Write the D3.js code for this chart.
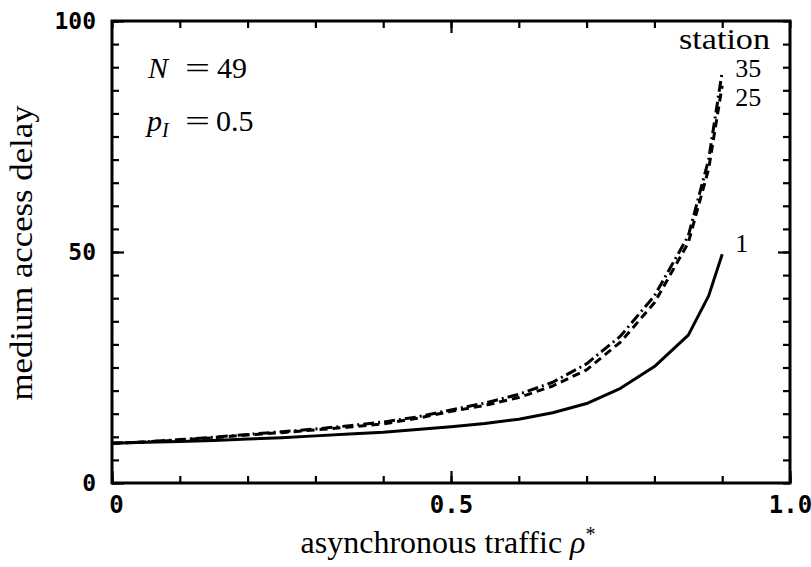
<!DOCTYPE html>
<html>
<head>
<meta charset="utf-8">
<script src="https://cdn.jsdelivr.net/npm/d3@7"></script>
<style>
  body { margin: 0; background: #fff; }
  .tick text { font-family: 'DejaVu Sans Mono', monospace; font-weight: bold; fill: #000; }
  text.label { font-family: 'Liberation Serif', 'Times New Roman', 'DejaVu Serif', serif; fill: #000; }
</style>
</head>
<body>
<svg width="811" height="567"></svg>
<script>
const rho = [0, 0.05, 0.1, 0.15, 0.2, 0.25, 0.3, 0.35, 0.4, 0.45, 0.5, 0.55, 0.6, 0.65, 0.7, 0.75, 0.8, 0.85, 0.88, 0.9];
const station1 = [8.6, 8.8, 9.0, 9.2, 9.5, 9.8, 10.2, 10.6, 11.0, 11.6, 12.2, 12.9, 13.8, 15.2, 17.2, 20.5, 25.2, 32, 40.5, 49.5];
const station25 = [8.6, 8.9, 9.3, 9.8, 10.4, 10.9, 11.5, 12.1, 12.8, 14.0, 15.5, 16.8, 18.5, 21, 24.5, 30.5, 39, 52, 68, 86];
const station35 = [8.6, 8.9, 9.4, 9.9, 10.5, 11.1, 11.7, 12.4, 13.2, 14.3, 15.8, 17.3, 19.2, 21.8, 25.8, 31.8, 40.5, 53.5, 70, 89];
const xMajor = [0, 0.5, 1.0];
const yMajor = [0, 50, 100];

const series = [
  { name: '35', values: station35, dash: '11,4,2,4' },
  { name: '25', values: station25, dash: '8,5' },
  { name: '1', values: station1, dash: null }
];

const margin = { top: 21, right: 21, bottom: 84, left: 112 };
const width = 811 - margin.left - margin.right;
const height = 567 - margin.top - margin.bottom;

const x = d3.scaleLinear().domain([0, 1]).range([0, width]);
const y = d3.scaleLinear().domain([0, 100]).range([height, 0]);

const svg = d3.select('svg')
  .append('g')
  .attr('transform', `translate(${margin.left}, ${margin.top})`);

const minorX = d3.range(0, 1.001, 0.1);
const minorY = d3.range(0, 100.1, 5);

// minor ticks, pointing inward on all four sides
svg.append('g').attr('transform', `translate(0, ${height})`)
  .call(d3.axisBottom(x).tickValues(minorX).tickSize(-7).tickFormat(''));
svg.append('g')
  .call(d3.axisTop(x).tickValues(minorX).tickSize(-7).tickFormat(''));
svg.append('g')
  .call(d3.axisLeft(y).tickValues(minorY).tickSize(-7).tickFormat(''));
svg.append('g').attr('transform', `translate(${width}, 0)`)
  .call(d3.axisRight(y).tickValues(minorY).tickSize(-7).tickFormat(''));

// major ticks with labels
svg.append('g').attr('transform', `translate(0, ${height})`)
  .call(d3.axisBottom(x).tickValues(xMajor).tickSize(-12).tickPadding(13))
  .call(g => g.selectAll('text').attr('font-size', 24).attr('dx', d => d === 0 ? 4 : 0)
    .text(d => d === 1 ? '1.0' : d === 0 ? '0' : d));
svg.append('g')
  .call(d3.axisTop(x).tickValues([0.5]).tickSize(-12).tickFormat(''));
svg.append('g')
  .call(d3.axisLeft(y).tickValues(yMajor).tickSize(-12).tickPadding(16))
  .call(g => g.selectAll('text').attr('font-size', 23));
svg.append('g').attr('transform', `translate(${width}, 0)`)
  .call(d3.axisRight(y).tickValues([50]).tickSize(-12).tickFormat(''));

svg.selectAll('.domain').remove();
svg.selectAll('.tick line').attr('stroke', '#000').attr('stroke-width', 2.2);

svg.append('rect')
  .attr('width', width)
  .attr('height', height)
  .attr('fill', 'none')
  .attr('stroke', '#000')
  .attr('stroke-width', 3);

const line = d3.line()
  .x((d, i) => x(rho[i]))
  .y(d => y(d));

svg.selectAll('.curve')
  .data(series)
  .enter()
  .append('path')
  .attr('class', 'curve')
  .attr('d', d => line(d.values))
  .attr('fill', 'none')
  .attr('stroke', '#000')
  .attr('stroke-width', 3)
  .attr('stroke-linejoin', 'round')
  .attr('stroke-dasharray', d => d.dash);

// curve labels
svg.append('text').attr('class', 'label')
  .attr('x', 567).attr('y', 28)
  .attr('font-size', 30)
  .attr('textLength', 91)
  .attr('lengthAdjust', 'spacingAndGlyphs')
  .text('station');
const endLabels = [
  { text: '35', value: 89.8 },
  { text: '25', value: 83.5 },
  { text: '1', value: 52 }
];
svg.selectAll('.end')
  .data(endLabels)
  .enter()
  .append('text')
  .attr('class', 'label end')
  .attr('x', x(0.9) + 13)
  .attr('y', d => y(d.value) + 9)
  .attr('font-size', 26)
  .text(d => d.text);

// parameters
const nText = svg.append('text').attr('class', 'label')
  .attr('y', 57).attr('font-size', 30);
nText.append('tspan').attr('x', 36).attr('font-style', 'italic').text('N');
nText.append('tspan').attr('x', 73).attr('textLength', 25).attr('lengthAdjust', 'spacingAndGlyphs').text('=');
nText.append('tspan').attr('x', 105).text('49');

const pText = svg.append('text').attr('class', 'label')
  .attr('y', 110).attr('font-size', 30);
pText.append('tspan').attr('x', 35).attr('font-style', 'italic').text('p');
pText.append('tspan').attr('font-style', 'italic').attr('font-size', 20).attr('dy', 6).text('I');
pText.append('tspan').attr('x', 73).attr('dy', -6).attr('textLength', 25).attr('lengthAdjust', 'spacingAndGlyphs').text('=');
pText.append('tspan').attr('x', 104).text('0.5');

// axis titles
const xTitle = svg.append('text').attr('class', 'label')
  .attr('x', width / 2 - 3).attr('y', height + 70)
  .attr('text-anchor', 'middle')
  .attr('font-size', 32);
xTitle.append('tspan').text('asynchronous traffic ');
xTitle.append('tspan').attr('font-style', 'italic').text('ρ');
xTitle.append('tspan').attr('font-size', 20).attr('dy', -12).text('*');

svg.append('text').attr('class', 'label')
  .attr('transform', `translate(-80, ${height / 2 + 1}) rotate(-90)`)
  .attr('text-anchor', 'middle')
  .attr('font-size', 31)
  .attr('textLength', 295)
  .attr('lengthAdjust', 'spacingAndGlyphs')
  .text('medium access delay');
</script>
</body>
</html>
